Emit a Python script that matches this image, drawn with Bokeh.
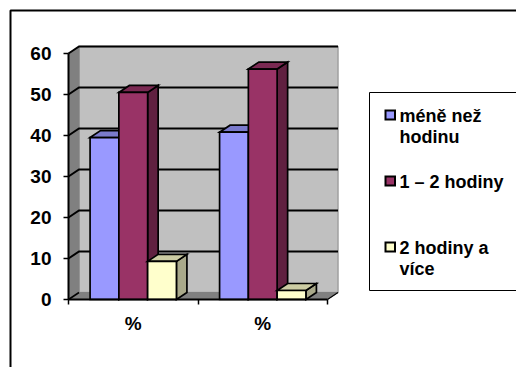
from bokeh.plotting import figure
from bokeh.models import Range1d, LinearAxis, FixedTicker
from bokeh.core.properties import value
from bokeh.embed import file_html
from bokeh.resources import INLINE

# Survey shares per category and answer
categories = ["%", "%"]
series_names = ["méně než\nhodinu", "1 – 2 hodiny", "2 hodiny a\nvíce"]
less_than_hour = [39.5, 40.8]
one_to_two = [50.5, 56.2]
two_and_more = [9.3, 2.2]
y_ticks = [0, 10, 20, 30, 40, 50, 60]

FONT = "Liberation Sans"
W, H = 516, 367
X0, Y0 = 68, 299          # pixel position of the chart origin
CAT_PX = 129.5            # pixels per category
VAL_PX = 4.1              # pixels per value unit
DEPTH_X = 10.5 / CAT_PX   # oblique depth in data units
DEPTH_Y = 7 / VAL_PX


def px(x):
    return (x - X0) / CAT_PX


def py(y):
    return (Y0 - y) / VAL_PX


p = figure(width=W, height=H, output_backend="svg", toolbar_location=None,
           x_range=Range1d(px(0), px(W)), y_range=Range1d(py(H), py(0)),
           x_axis_type=None, y_axis_type=None,
           min_border=0, min_border_left=0, min_border_right=0,
           min_border_top=0, min_border_bottom=0,
           background_fill_color="white", border_fill_color="white")
p.outline_line_color = None
p.xgrid.visible = False
p.ygrid.visible = False

# Frame of the whole graphic: top and left rules only reach the window edges
p.line([px(W), px(10), px(10)], [py(10), py(10), py(H)], line_color="black", line_width=2)

n_cat = len(categories)
ymax = y_ticks[-1]

# Back wall, side wall and floor
p.patch([0 + DEPTH_X, n_cat + DEPTH_X, n_cat + DEPTH_X, 0 + DEPTH_X],
        [DEPTH_Y, DEPTH_Y, ymax + DEPTH_Y, ymax + DEPTH_Y],
        fill_color="#C0C0C0", line_color="#A0A0A0", line_width=1.5)
p.patch([0, DEPTH_X, DEPTH_X, 0], [0, DEPTH_Y, ymax + DEPTH_Y, ymax],
        fill_color="#808080", line_color="#808080")
p.patch([0, DEPTH_X, n_cat + DEPTH_X, n_cat], [0, DEPTH_Y, DEPTH_Y, 0],
        fill_color="#808080", line_color="#808080")

# Gridlines run along the side wall and across the back wall
p.multi_line(
    [[0, DEPTH_X, n_cat + DEPTH_X] for _ in y_ticks[1:]],
    [[t, t + DEPTH_Y, t + DEPTH_Y] for t in y_ticks[1:]],
    line_color="black", line_width=2, line_join="miter")
p.line([0, DEPTH_X], [0, DEPTH_Y], line_color="black", line_width=1.6)
p.line([n_cat, n_cat + DEPTH_X], [0, DEPTH_Y], line_color="black", line_width=1.2)

# Oblique bars: gap of half a bar width either side of each group
bar_w = 1 / 4.5
gap = bar_w * 0.75
styles = [
    ("#9999FF", "#7A7ACC", "#6060A0"),
    ("#993366", "#7A2952", "#602040"),
    ("#FFFFCC", "#CCCCA3", "#A9A98A"),
]
values = [less_than_hour, one_to_two, two_and_more]
for c in range(n_cat):
    for s, vals in enumerate(values):
        v = vals[c]
        l = c + gap + s * bar_w
        r = l + bar_w
        front, top, side = styles[s]
        p.patch([r, r + DEPTH_X, r + DEPTH_X, r], [0, DEPTH_Y, v + DEPTH_Y, v],
                fill_color=side, line_color="black", line_width=1.7, line_join="miter")
        p.patch([l, l + DEPTH_X, r + DEPTH_X, r], [v, v + DEPTH_Y, v + DEPTH_Y, v],
                fill_color=top, line_color="black", line_width=1.7, line_join="miter")
        p.quad(left=l, right=r, bottom=0, top=v,
               fill_color=front, line_color="black", line_width=1.7, line_join="miter")

# Value axis
yaxis = LinearAxis(ticker=FixedTicker(ticks=y_ticks), fixed_location=0, bounds=(0, ymax))
yaxis.axis_line_color = "black"
yaxis.axis_line_width = 2
yaxis.major_tick_line_color = "black"
yaxis.major_tick_line_width = 1.5
yaxis.major_tick_out = 5
yaxis.major_tick_in = 0
yaxis.minor_tick_line_color = None
yaxis.major_label_standoff = 12
yaxis.major_label_text_font = FONT
yaxis.major_label_text_font_style = "bold"
yaxis.major_label_text_font_size = "19px"
yaxis.major_label_text_color = "black"
p.add_layout(yaxis, "left")

# Category axis: ticks between the groups
xaxis = LinearAxis(ticker=FixedTicker(ticks=list(range(n_cat + 1))), fixed_location=0,
                   bounds=(0, n_cat))
xaxis.axis_line_color = "black"
xaxis.axis_line_width = 2
xaxis.major_tick_line_color = "black"
xaxis.major_tick_line_width = 1.5
xaxis.major_tick_out = 5
xaxis.major_tick_in = 0
xaxis.minor_tick_line_color = None
xaxis.major_label_text_color = None
xaxis.major_label_text_font_size = "1px"
p.add_layout(xaxis, "below")

# Category labels sit centred under each group
centers = [i + 0.5 for i in range(n_cat)]
xlabels = LinearAxis(ticker=FixedTicker(ticks=centers), fixed_location=0,
                     major_label_overrides={c: n for c, n in zip(centers, categories)})
xlabels.axis_line_color = None
xlabels.major_tick_line_color = None
xlabels.minor_tick_line_color = None
xlabels.major_label_standoff = 7
xlabels.major_label_text_font = FONT
xlabels.major_label_text_font_style = "bold"
xlabels.major_label_text_font_size = "19px"
xlabels.major_label_text_color = "black"
p.add_layout(xlabels, "below")

# Legend box, open towards the right edge
p.line([px(W + 2), px(369), px(369), px(W + 2)], [py(92), py(92), py(290), py(290)],
       line_color="black", line_width=1)

swatch_tops = [110, 176, 242]
baselines = [[115, 136], [181], [247, 268]]
for name, st, bl, (front, _, _) in zip(series_names, swatch_tops, baselines, styles):
    p.quad(left=px(385), right=px(394.5), top=py(st), bottom=py(st + 9),
           fill_color=front, line_color="black", line_width=2, line_join="miter")
    for line, b in zip(name.split("\n"), bl):
        p.text(x=[px(399)], y=[py(b)], text=[line], text_font=value(FONT),
               text_font_style="bold", text_font_size="18px", text_color="black",
               text_align="left", text_baseline="alphabetic")

open("out.html", "w").write(file_html(p, INLINE))
